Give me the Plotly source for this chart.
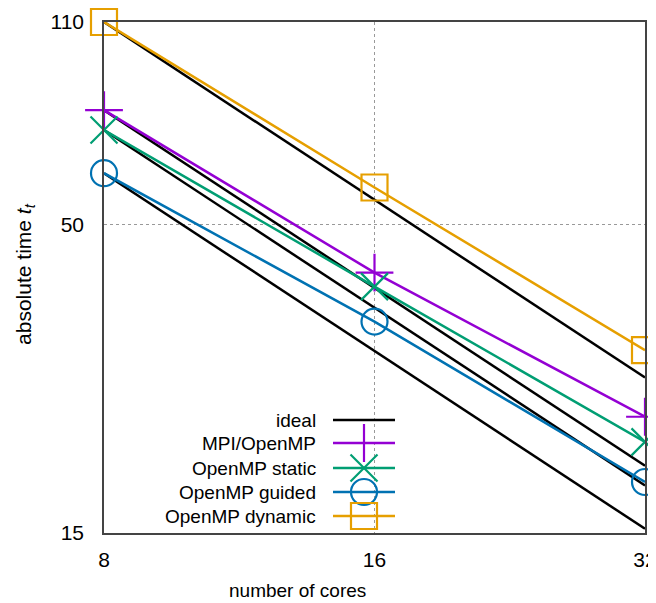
import plotly.graph_objects as go
import math

cores = [8, 16, 32]
tick_cores = [8, 16, 32]
tick_time = [15, 50, 110]

mpi = [78.0, 41.4, 23.6]
omp_static = [72.2, 39.2, 21.4]
omp_guided = [61.0, 34.2, 18.3]
omp_dynamic = [110.0, 57.7, 30.6]

ideal_dynamic = [110.0, 55.0, 27.5]
ideal_mpi = [78.0, 39.0, 19.5]
ideal_static = [72.2, 36.1, 18.05]
ideal_guided = [61.0, 30.5, 15.25]

labels = ["ideal", "MPI/OpenMP", "OpenMP static", "OpenMP guided", "OpenMP dynamic"]

FONT = "Liberation Sans, Arial, Helvetica, sans-serif"
colors = {"ideal": "#000000", "MPI/OpenMP": "#9400D3", "OpenMP static": "#009E73",
          "OpenMP guided": "#0072B2", "OpenMP dynamic": "#E69F00"}
symbols = {"MPI/OpenMP": "cross-thin", "OpenMP static": "x-thin",
           "OpenMP guided": "circle-open", "OpenMP dynamic": "square-open"}
msize = {"MPI/OpenMP": 27, "OpenMP static": 27, "OpenMP guided": 26, "OpenMP dynamic": 26}
LW = 2.5

fig = go.Figure()

for ideal in [ideal_dynamic, ideal_mpi, ideal_static, ideal_guided]:
    fig.add_trace(go.Scatter(x=cores, y=ideal, mode="lines", name="ideal",
                             line=dict(color="black", width=LW), showlegend=False,
                             cliponaxis=False))

series = {"MPI/OpenMP": mpi, "OpenMP static": omp_static,
          "OpenMP guided": omp_guided, "OpenMP dynamic": omp_dynamic}
for name, vals in series.items():
    fig.add_trace(go.Scatter(x=cores, y=vals, mode="lines+markers", name=name,
                             line=dict(color=colors[name], width=LW),
                             marker=dict(symbol=symbols[name], size=msize[name],
                                         color=colors[name],
                                         line=dict(color=colors[name], width=2.2)),
                             showlegend=False, cliponaxis=False))

# custom legend (text left of sample, gnuplot style), in overlay pixel-like axes
rows = [420, 443, 468, 492, 516]
for lab, ry in zip(labels, rows):
    c = colors[lab]
    fig.add_trace(go.Scatter(x=[333, 395], y=[ry, ry], mode="lines", xaxis="x2", yaxis="y2",
                             line=dict(color=c, width=LW), showlegend=False,
                             hoverinfo="skip", cliponaxis=False))
    if lab in symbols:
        fig.add_trace(go.Scatter(x=[364], y=[ry], mode="markers", xaxis="x2", yaxis="y2",
                                 marker=dict(symbol=symbols[lab], size=msize[lab], color=c,
                                             line=dict(color=c, width=2.2)),
                                 showlegend=False, hoverinfo="skip", cliponaxis=False))
    fig.add_annotation(x=318, y=ry, xref="x2", yref="y2", text=lab, showarrow=False,
                       xanchor="right", yanchor="middle",
                       font=dict(family=FONT, size=19, color="black"))

fig.add_annotation(x=0.357, y=-0.112, xref="paper", yref="paper", text="number of cores",
                   showarrow=False, xanchor="center", yanchor="middle",
                   font=dict(family=FONT, size=19, color="black"))
fig.add_annotation(x=-0.146, y=0.507, xref="paper", yref="paper",
                   text="absolute time <i>t</i><sub><i>t</i></sub>", textangle=-90,
                   showarrow=False, xanchor="center", yanchor="middle", borderpad=0,
                   font=dict(family=FONT, size=21, color="black"))

EPS = 1e-6
fig.update_layout(
    width=648, height=595,
    margin=dict(l=96, r=11, t=14, b=70),
    paper_bgcolor="white", plot_bgcolor="white",
    font=dict(family=FONT, size=20, color="black"),
    showlegend=False,
    xaxis=dict(type="log", range=[math.log10(8) - EPS, math.log10(32) + EPS],
               tickvals=tick_cores, ticktext=[str(v) for v in tick_cores],
               showgrid=True, gridcolor="#999999", griddash="dot", gridwidth=1,
               showline=True, mirror=True, linecolor="#444444", linewidth=1.5,
               ticks="", ticklabelstandoff=7, tickfont=dict(size=21),
               ticklabeloverflow="allow",
               zeroline=False, automargin=False),
    yaxis=dict(type="log", range=[math.log10(15) - EPS, math.log10(110) + EPS],
               tickvals=tick_time, ticktext=[str(v) for v in tick_time],
               showgrid=True, gridcolor="#999999", griddash="dot", gridwidth=1,
               showline=True, mirror=True, linecolor="#444444", linewidth=1.5,
               ticks="", ticklabelstandoff=14, tickfont=dict(size=21),
               ticklabeloverflow="allow",
               zeroline=False, automargin=False),
    xaxis2=dict(overlaying="x", range=[104, 645], visible=False, fixedrange=True),
    yaxis2=dict(overlaying="y", range=[533, 22], visible=False, fixedrange=True),
)

fig.write_html("out.html")
